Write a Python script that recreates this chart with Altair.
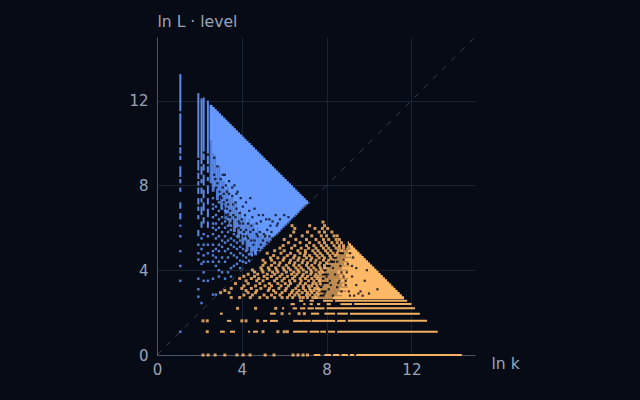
import altair as alt
import pandas as pd

BG = "#060b16"
BLUE = "#6699ff"
ORANGE = "#ffb866"

axis_ticks = [0, 4, 8, 12]
diag_xy = [0, 15]

# vertical strips of the blue series: x, y from, y to
strip_x = [1.10,1.10,1.10,1.10,1.10,1.10,1.10,1.10,1.10,1.10,
           1.95,1.95,1.95,1.95,1.95,1.95,1.95,1.95,1.95,
           2.10,2.10,2.10,2.10,2.10,2.10,2.10,
           2.20,2.20,2.20,2.20,2.20,2.20,2.20,
           2.40,2.40,2.40,2.40,2.40,2.40,2.40,2.40]
strip_lo = [11.5,9.9,9.5,9.2,8.4,8.1,7.7,6.9,6.4,6.05,
            9.3,8.7,8.3,8.0,7.6,7.1,6.8,6.4,5.6,
            9.0,8.5,8.1,7.6,7.2,6.6,6.0,
            9.6,9.2,8.7,8.0,7.4,6.8,6.2,
            9.5,9.0,8.6,8.2,7.6,7.1,6.5,6.0]
strip_hi = [13.25,11.4,9.8,9.4,8.9,8.3,7.9,7.2,6.7,6.15,
            12.35,9.2,8.6,8.2,7.9,7.4,7.0,6.6,5.9,
            12.1,8.9,8.3,7.9,7.4,7.0,6.3,
            12.15,9.5,9.0,8.5,7.8,7.2,6.5,
            12.0,9.4,8.9,8.4,8.0,7.4,6.9,6.3]

# dense blue columns
blue_x = [2.55,2.65,2.75,2.85,2.95,3.05,3.15,3.25,3.35,3.45,3.55,3.65,3.75,3.85,3.95,4.05,
          4.15,4.25,4.35,4.45,4.55,4.65,4.75,4.85,4.95,5.05,5.15,5.25,5.35,5.45,5.55,5.65,
          5.75,5.85,5.95,6.05,6.15,6.25,6.35,6.45,6.55,6.65,6.75,6.85,6.95,7.05,7.15]
blue_hi = [11.8,11.7,11.6,11.5,11.4,11.3,11.2,11.1,11.0,10.9,10.8,10.7,10.6,10.5,10.4,10.3,
           10.2,10.1,10.0,9.9,9.8,9.7,9.6,9.5,9.4,9.3,9.2,9.1,9.0,8.9,8.8,8.7,
           8.6,8.5,8.4,8.3,8.2,8.1,8.0,7.9,7.8,7.7,7.6,7.5,7.4,7.3,7.2]
blue_lo = [10.1,9.5,9.4,8.9,8.9,8.3,8.2,7.8,7.9,7.4,7.5,7.0,7.2,6.7,6.8,6.4,
           6.6,6.2,6.4,6.0,6.2,5.8,6.0,5.6,5.8,5.55,5.7,5.5,5.6,5.55,5.65,5.75,
           5.85,5.95,6.05,6.15,6.25,6.35,6.45,6.55,6.65,6.75,6.85,6.95,7.05,7.12,7.18]
blue_mid = [8.1,7.7,7.9,7.3,7.5,6.9,7.1,6.4,6.7,6.1,6.4,5.8,6.0,5.5,5.7,5.2,
            5.4,4.9,5.1,4.7,4.9,4.7,4.9,4.9,5.0,5.1,5.2,5.3,5.4,5.5,5.6,5.7,
            5.8,5.9,6.0,6.1,6.2,6.3,6.4,6.5,6.6,6.7,6.8,6.9,7.0,7.1,7.15]

# single blue points, column by column
blue_pt_cols = [1.10, 1.95, 2.10, 2.20, 2.40, 2.64, 2.78, 2.92, 3.07, 3.21, 3.35, 3.49, 3.63, 3.77, 3.92, 4.06, 4.20, 4.34, 4.48, 4.62]
blue_pt_rows = [
    [5.6,4.9,4.2,3.5,1.1],
    [5.2,4.8,4.5,3.6,3.1,2.75],
    [5.5,5.0,4.3,2.45],
    [5.7,5.2,4.7,4.4,3.9,3.5],
    [5.6,5.2,4.8,4.4,3.5],
    [7.4,7.1,6.9,6.5,6.2,6.0,5.7,5.2,4.9,4.7,4.4,3.6,2.85],
    [7.0,6.6,6.2,5.9,5.5,5.0,4.6,4.2,2.85],
    [7.2,6.8,6.4,6.0,5.6,5.2,4.9,4.4,4.0,3.7],
    [6.9,6.5,6.2,5.8,5.4,5.1,4.6,3.9],
    [6.8,6.3,6.0,5.6,5.3,4.9,4.4,3.6],
    [6.4,6.1,5.8,5.4,5.0,4.6,3.9],
    [6.1,5.9,5.5,5.2,4.8,4.1,3.7],
    [5.7,5.4,5.1,4.7,4.2],
    [5.6,5.3,5.0,4.6,4.3],
    [5.4,5.1,4.8,4.45,4.1],
    [5.0,4.7,4.4],
    [4.9,4.6,4.35],
    [4.75,4.45],
    [4.7],
    [4.85],
]

# dark holes inside the blue cloud: x list and y list
blue_hole_x = [2.70,2.75,2.85,2.80,3.0,3.1,3.15,3.2,3.3,3.35,3.4,3.45,3.55,3.6,3.65,3.7,3.75,3.8,3.9,3.95,4.0,4.05,4.15,
               4.2,4.3,4.35,4.4,4.5,4.55,4.6,4.7,4.8,4.85,4.9,5.0,5.05,5.15,5.2,5.3,5.35,5.45,5.6,
               5.65,5.8,6.0,6.2,3.05,3.25,3.5,3.85,4.1,4.45,4.75,5.1,5.4,5.7,
               3.15,3.3,3.45,3.6,3.7,3.85,3.95,4.1,4.2,4.3,4.45,4.6,4.7,4.9,5.0,5.2,5.3,5.45,2.95,3.1,
               3.25,3.4,3.55,3.75,3.9,4.05,4.25,4.4,4.55,4.8,2.70,2.85,3.0,3.15,3.3]
blue_hole_y = [8.5,8.3,8.9,7.9,8.3,7.9,7.2,8.5,7.7,7.1,8.2,6.8,7.5,6.6,8.0,7.2,6.9,7.7,6.7,7.4,6.4,7.0,6.6,
               7.2,6.2,6.8,7.4,6.5,5.9,6.9,6.2,6.6,5.8,6.3,6.6,5.7,6.4,5.9,6.4,6.1,6.3,6.6,
               6.1,6.4,6.6,6.5,7.4,6.6,6.2,6.0,5.8,6.1,5.6,5.6,5.8,6.2,
               6.9,7.3,6.5,7.1,6.5,6.3,5.9,5.6,5.9,5.5,5.4,5.4,5.7,5.2,5.4,5.3,5.6,5.5,7.7,8.5,
               8.0,7.6,7.9,7.6,6.2,6.2,5.6,5.8,5.2,5.0,9.3,8.1,7.5,7.6,6.9]

# orange rows: y, x from, x to
row_y = [0,0,0,0,0,0,
         1.10,1.10,1.10,1.10,1.10,1.10,1.10,1.10,1.10,
         1.61,1.61,1.61,1.61,1.61,1.61,1.61,1.61,
         1.95,1.95,1.95,1.95,1.95,1.95,1.95,
         2.20,2.20,2.20,2.20,2.20,2.20,
         2.40,2.40,2.40,2.40,2.40,2.40,2.40,
         2.56,2.56,2.56,2.56]
row_x0 = [7.4,7.9,8.3,8.7,9.1,9.4,
          2.97,3.44,4.3,4.53,6.42,7.2,7.7,8.07,8.5,
          3.3,5.0,5.33,6.42,6.9,7.3,8.5,9.0,
          2.97,5.33,6.2,7.26,7.9,8.5,9.1,
          5.9,6.4,6.75,7.1,7.45,8.0,
          6.3,6.9,7.2,7.55,8.0,8.65,9.3,
          6.7,7.2,7.83,8.4]
row_x1 = [7.7,8.2,8.6,9.0,9.3,14.38,
          3.2,3.68,4.39,4.76,7.1,7.65,7.97,8.4,13.24,
          3.5,5.2,5.7,6.9,7.25,8.4,8.9,12.74,
          3.1,5.6,6.3,7.65,8.4,9.0,12.4,
          6.0,6.6,7.0,7.4,7.9,12.17,
          6.5,7.0,7.35,7.7,8.2,9.2,12.0,
          6.9,7.4,8.3,11.8]

# dense orange rows
orange_y = [2.7,2.8,2.9,3.0,3.1,3.2,3.3,3.4,3.5,3.6,3.7,3.8,3.9,4.0,4.1,4.2,4.3,4.4,4.5,4.6,4.7,4.8,4.9,5.0,5.1,5.2,5.3,5.4]
orange_lo = [8.3,8.7,8.5,8.9,8.6,9.0,8.7,8.9,8.5,9.0,8.6,8.8,8.5,9.0,8.7,9.1,8.8,9.0,8.7,9.2,8.9,9.2,9.0,9.15,9.1,9.05,9.0,8.95]
orange_hi = [11.65,11.55,11.45,11.35,11.25,11.15,11.05,10.95,10.85,10.75,10.65,10.55,10.45,10.35,10.25,10.15,10.05,9.95,9.85,9.75,9.65,9.55,9.45,9.35,9.25,9.15,9.05,8.95]
orange_mid = [7.4,7.9,7.6,8.0,7.5,7.8,7.7,8.1,7.6,7.9,7.7,8.1,7.8,8.0,7.9,8.2,8.0,8.4,8.2,8.5,8.4,8.8,8.7,8.9,8.95,9.0,9.0,8.95]

# single orange points, row by row
orange_pt_rows = [2.71,2.83,2.94,3.04,3.14,3.26,3.37,3.50,3.61,3.71,3.81,3.91,4.01,4.11,4.23,4.35,4.47,4.58,4.69,4.80,4.92,5.04,5.16,5.30,5.45,5.62,5.80,5.97,6.10,6.27]
orange_pt_cols = [
    [3.5,3.9,4.4,4.85,5.2,5.55,5.9,6.15,6.4,6.75,6.9,7.1,7.35,7.5],
    [4.1,4.5,5.05,5.4,5.8,6.25,6.5,6.7,7.05,7.2,7.45,7.6],
    [3.0,3.4,4.3,4.65,5.6,5.9,6.35,6.6,6.85,7.1,7.3,7.55],
    [3.2,4.2,4.7,5.25,5.5,6.05,6.4,6.7,7.0,7.25,7.4,7.65],
    [3.5,4.0,4.45,4.9,5.3,5.75,6.1,6.55,6.9,7.2,7.45,7.6],
    [4.1,4.65,5.1,5.4,5.85,6.2,6.65,6.9,7.15,7.3,7.55],
    [3.7,4.3,4.85,5.3,5.7,6.05,6.3,6.75,7.0,7.35,7.5,7.7],
    [4.2,4.7,5.0,5.55,5.9,6.25,6.5,6.8,7.15,7.4,7.65],
    [3.9,4.45,4.8,5.2,5.65,6.0,6.4,6.75,7.0,7.3,7.55,7.7],
    [4.1,4.6,5.05,5.4,5.8,6.15,6.5,6.85,7.1,7.45,7.6],
    [4.3,4.75,5.2,5.55,5.9,6.35,6.6,6.9,7.25,7.5,7.7],
    [4.6,5.0,5.45,5.7,6.1,6.45,6.7,7.05,7.3,7.65,7.8],
    [4.5,4.95,5.3,5.65,6.0,6.3,6.65,6.9,7.25,7.5,7.75],
    [4.9,5.25,5.6,5.95,6.2,6.55,6.8,7.15,7.4,7.7,7.9],
    [5.0,5.4,5.75,6.1,6.45,6.7,7.05,7.3,7.65,7.9],
    [5.1,5.55,5.8,6.25,6.5,6.85,7.1,7.45,7.7,8.0],
    [5.0,5.4,5.95,6.3,6.65,6.9,7.25,7.5,7.85,8.1],
    [5.35,5.7,6.0,6.45,6.7,7.05,7.3,7.65,7.9,8.2],
    [5.5,6.15,6.5,6.95,7.2,7.55,7.8,8.15,8.4],
    [5.2,5.85,6.3,6.75,7.0,7.45,7.7,8.05,8.3,8.5],
    [5.55,6.0,6.65,7.0,7.35,7.6,7.95,8.2,8.55,8.7],
    [5.8,6.35,6.8,7.15,7.5,7.85,8.1,8.45,8.6,8.8],
    [5.95,6.5,7.05,7.4,7.75,8.0,8.35,8.6,8.8],
    [6.2,6.75,7.2,7.65,7.9,8.25,8.5,8.7],
    [6.0,6.55,7.05,7.5,7.85,8.1,8.45,8.6],
    [6.3,6.85,7.3,7.75,8.0,8.35,8.5],
    [6.45,7.1,7.65,7.9,8.25],
    [6.5,7.45,7.8,8.05],
    [6.37,7.2,7.9],
    [7.83],
]
orange_y0_pts = [2.17,2.41,2.74,3.2,3.77,4.06,4.39,5.1,5.52,6.42,6.65,6.89,7.1]
orange_y11_pts = [2.37,5.0,5.7,6.0,6.15]
orange_y16_pts = [2.17,2.37,4.0,4.2,4.75]
orange_y195_pts = [5.9,6.7,6.95]
orange_y22_pts = [3.8,4.65,5.6]

orange_hole_x = [7.9,8.1,8.3,8.5,8.7,7.8,8.2,8.6,8.9,8.0,8.4,8.8,7.9,8.3,8.7,9.0,8.1,8.5,8.0,8.4,
                 8.8,9.2,7.8,8.2,8.6,9.1,7.9,8.3,8.7,9.4,9.8,10.0,9.3,9.6,9.9,10.4,9.1,9.5,9.2,9.7,8.9,9.4,
                 8.15,8.55,8.95,8.25,8.65,9.05,8.35,8.75,9.25]
orange_hole_y = [2.9,3.1,2.8,3.2,3.0,3.3,3.3,3.5,3.3,3.7,3.8,3.7,4.0,4.1,3.9,4.3,4.2,4.4,4.7,4.6,
                 4.5,4.2,5.0,4.9,5.0,4.8,5.2,5.2,5.4,3.3,3.5,2.9,2.8,3.0,4.0,3.1,2.8,2.9,3.7,2.8,3.5,4.1,
                 3.5,3.4,3.9,4.4,4.2,3.0,5.0,4.8,4.6]

x_scale = alt.Scale(domain=[0, 15], nice=False, zero=False)
y_scale = alt.Scale(domain=[0, 15], nice=False, zero=False)

axis_style = dict(values=axis_ticks, grid=True, gridColor="#1b2434", gridWidth=1, domainColor="#4a5568",
                  ticks=False, labelColor="#9aa5b8", labelFontSize=15, labelFont="DejaVu Sans", labelFlush=False,
                  titleColor="#9aa5b8", titleFontSize=15.6, titleFont="DejaVu Sans", titleFontWeight="normal",
                  titleAlign="left", titleAngle=0, titleBaseline="middle")
x_axis = alt.Axis(title="ln k", labelPadding=7, titleX=334, titleY=8, **axis_style)
y_axis = alt.Axis(title="ln L · level", labelPadding=9, titleX=0, titleY=-16, **axis_style)


def points(df, color, size=4, opacity=0.8):
    return alt.Chart(df).mark_square(size=size, color=color, opacity=opacity, strokeWidth=0).encode(
        x=alt.X("x:Q", scale=x_scale, axis=x_axis), y=alt.Y("y:Q", scale=y_scale, axis=y_axis))


def vrules(xs, los, his, color, width, opacity):
    df = pd.DataFrame({"x": xs, "lo": los, "hi": his})
    return alt.Chart(df).mark_rule(color=color, strokeWidth=width, opacity=opacity).encode(
        x=alt.X("x:Q", scale=x_scale, axis=x_axis),
        y=alt.Y("lo:Q", scale=y_scale, axis=y_axis), y2="hi:Q")


def hrules(ys, los, his, color, width, opacity):
    df = pd.DataFrame({"y": ys, "lo": los, "hi": his})
    return alt.Chart(df).mark_rule(color=color, strokeWidth=width, opacity=opacity).encode(
        y=alt.Y("y:Q", scale=y_scale, axis=y_axis),
        x=alt.X("lo:Q", scale=x_scale, axis=x_axis), x2="hi:Q")


base = alt.Chart(pd.DataFrame({"x": diag_xy, "y": diag_xy})).mark_line(
    color="#94a3b8", strokeWidth=0.8, strokeDash=[6, 7], opacity=0.42).encode(
    x=alt.X("x:Q", scale=x_scale, axis=x_axis), y=alt.Y("y:Q", scale=y_scale, axis=y_axis))

blue_pts = pd.DataFrame([{"x": c, "y": v} for c, r in zip(blue_pt_cols, blue_pt_rows) for v in r])
orange_pts = pd.DataFrame(
    [{"x": v, "y": r} for r, c in zip(orange_pt_rows, orange_pt_cols) for v in c]
    + [{"x": v, "y": 0} for v in orange_y0_pts]
    + [{"x": v, "y": 1.10} for v in orange_y11_pts]
    + [{"x": v, "y": 1.61} for v in orange_y16_pts]
    + [{"x": v, "y": 1.95} for v in orange_y195_pts]
    + [{"x": v, "y": 2.20} for v in orange_y22_pts])

chart = alt.layer(
    base,
    vrules(strip_x, strip_lo, strip_hi, BLUE, 2, 0.9),
    vrules(blue_x, blue_mid, blue_lo, BLUE, 3, 0.78),
    vrules(blue_x, blue_lo, blue_hi, BLUE, 3, 1),
    points(pd.DataFrame({"x": blue_hole_x, "y": blue_hole_y}), BG, size=5, opacity=0.8),
    points(blue_pts, BLUE, size=6, opacity=0.8),
    hrules(orange_y, orange_mid, orange_lo, ORANGE, 2.4, 0.72),
    hrules(row_y, row_x0, row_x1, ORANGE, 2, 0.95),
    hrules(orange_y, orange_lo, orange_hi, ORANGE, 3, 1),
    points(pd.DataFrame({"x": orange_hole_x, "y": orange_hole_y}), BG, size=5, opacity=0.8),
    points(orange_pts, ORANGE, size=9, opacity=0.82),
).properties(
    width=318, height=318, background=BG,
    autosize=alt.AutoSizeParams(type="none"),
    padding={"left": 149, "top": 29, "right": 157, "bottom": 37},
).configure_view(stroke=None)

chart.save("out.html", embed_options={"renderer": "svg", "actions": False,
                                      "defaultStyle": "html,body{background:#060b16}"})
